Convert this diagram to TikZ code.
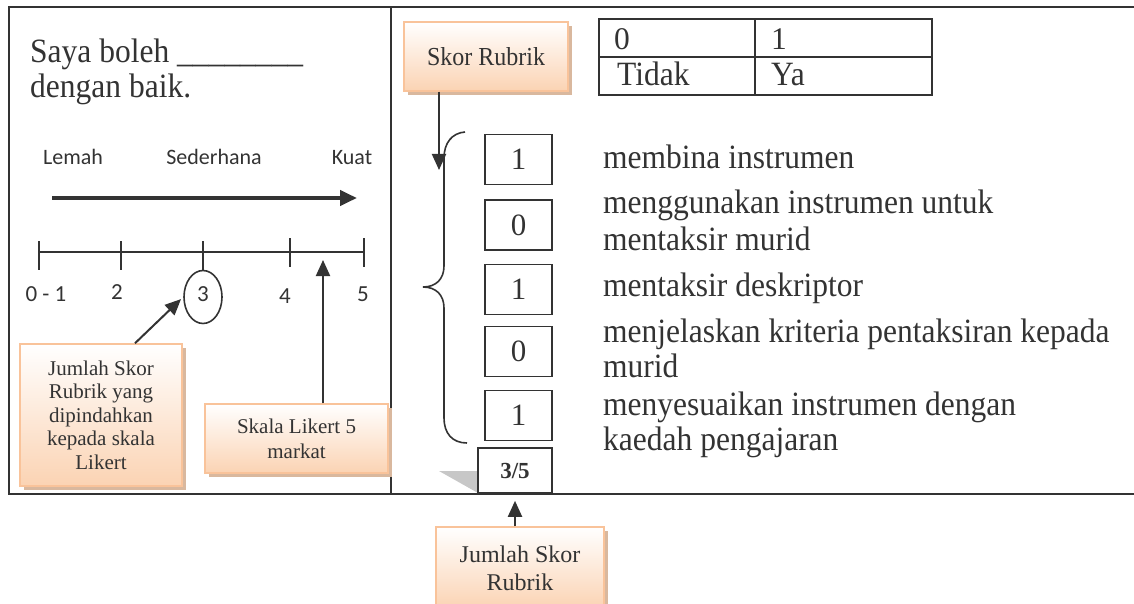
\documentclass[tikz,border=0pt]{standalone}
\usepackage{fontspec}
\setmainfont{Liberation Serif}
\newfontfamily\calfont{Carlito}
\usetikzlibrary{arrows.meta,shapes.geometric,shadows,calc}
\definecolor{ink}{HTML}{333333}
\definecolor{peach}{HTML}{FBD3B3}
\definecolor{peachedge}{HTML}{F9C39A}
\definecolor{shad}{HTML}{D9B89E}
\newcommand\vstretch[1]{\scalebox{1}[1.08]{#1}}
\begin{document}
\begin{tikzpicture}[x=1pt,y=-1pt,
  frame/.style={draw=ink,line width=2pt},
  callout/.style={draw=peachedge,line width=1.5pt,top color=white,bottom color=peach,text=ink,align=center,inner sep=0pt,
    drop shadow={shadow xshift=4pt,shadow yshift=-4pt,fill=shad,opacity=1}},
  score/.style={draw=ink,line width=1.6pt,fill=white,minimum width=67pt,minimum height=50pt,inner sep=0pt,
    font=\fontsize{31}{36}\selectfont,text=ink},
  arr/.style={draw=ink,line width=2pt,-{Triangle[length=16pt,width=14pt]}},
  txt/.style={anchor=base west,inner sep=0pt,font=\fontsize{31.5}{36}\selectfont,text=ink},
  scl/.style={anchor=base,inner sep=0pt,font=\calfont\fontsize{23}{27}\selectfont,text=ink},
]
\useasboundingbox (0,0) rectangle (1134,604);

% frame
\coordinate (tl) at (9,7);
\coordinate (bl) at (9,494);
\coordinate (tr) at (1134,7);
\coordinate (br) at (1134,494);
\coordinate (dt) at (391,7);
\coordinate (db) at (391,494);
\draw[frame] (tr) -- (tl) -- (bl) -- (br);
\draw[frame] (dt) -- (db);

% ---------- left panel ----------
\node[txt] (q1) at (30,63) {\vstretch{Saya boleh \_\_\_\_\_\_\_\_}};
\node[txt] (q2) at (30,98) {\vstretch{dengan baik.}};

\node[scl,font=\calfont\fontsize{22}{26}\selectfont] (lemah) at (73,165) {Lemah};
\node[scl,font=\calfont\fontsize{22}{26}\selectfont] (sederhana) at (214,165) {Sederhana};
\node[scl,font=\calfont\fontsize{22}{26}\selectfont] (kuat) at (352,165) {Kuat};

\coordinate (ba1) at (52,198);
\coordinate (ba2) at (357,198);
\draw[ink,line width=4pt,-{Triangle[length=17pt,width=15pt]}] (ba1) -- (ba2);

% number line
\coordinate (n0) at (39,252);
\coordinate (n1) at (121,252);
\coordinate (n2) at (203,252);
\coordinate (n3) at (290,252);
\coordinate (n4) at (364,252);
\node[ellipse,draw=ink,line width=1.6pt,minimum width=38pt,minimum height=53pt,inner sep=0pt] (ell) at (203,297) {};
\node[scl] (l3) at (203,301) {3};
\draw[ink,line width=2.5pt] (n0) -- (n4);
\draw[ink,line width=2.5pt] (n0) ++(0,-11) -- ++(0,29);
\draw[ink,line width=2.5pt] (n1) ++(0,-11) -- ++(0,29);
\draw[ink,line width=2.5pt] (n2) ++(0,-11) -- (ell.north);
\draw[ink,line width=2.5pt] (n3) ++(0,-14) -- ++(0,29);
\draw[ink,line width=2.5pt] (n4) ++(0,-14) -- ++(0,29);

\node[scl] (l01) at (46,301) {0 - 1};
\node[scl] (l2) at (117,299) {2};
\node[scl] (l4) at (285,303) {4};
\node[scl] (l5) at (363,301) {5};

\node[callout,minimum width=162pt,minimum height=142pt,font=\fontsize{21}{23.5}\selectfont] (j1) at (101,415)
  {Jumlah Skor\\Rubrik yang\\dipindahkan\\kepada skala\\Likert};
\node[callout,minimum width=183pt,minimum height=69pt,font=\fontsize{21}{25}\selectfont] (sk) at (296.5,438.5)
  {Skala Likert 5\\markat};

\draw[arr,shorten >=3pt] ([xshift=34pt]j1.north) -- (ell.west);
\coordinate (likpt) at (323,260);
\draw[arr] (sk.north -| likpt) -- (likpt);

% ---------- right panel ----------
\node[callout,minimum width=164pt,minimum height=69pt,font=\fontsize{24}{28}\selectfont] (skor) at (486,56.5) {\vstretch{Skor Rubrik}};

% table
\draw[ink,line width=2.2pt] (599,19) rectangle (932,95);
\draw[ink,line width=2.2pt] (599,57) -- (932,57);
\draw[ink,line width=2.2pt] (755,19) -- (755,95);
\node[txt] (c0) at (614,50) {0};
\node[txt] (c1) at (771,50) {1};
\node[txt] (c2) at (617,86) {\vstretch{Tidak}};
\node[txt] (c3) at (771,86) {\vstretch{Ya}};

% brace
\draw[ink,line width=1.6pt]
  (465,132) .. controls (452,133) and (444,143) .. (444,158)
  -- (444,266) .. controls (444,279) and (436,287) .. (423,287)
  .. controls (436,287) and (444,295) .. (444,308)
  -- (444,418) .. controls (444,433) and (452,443) .. (467,443);

\coordinate (skorTip) at (439,170);
\draw[arr] (skor.south -| skorTip) -- (skorTip);

% score boxes
\node[score] (s1) at (518.5,159.5) {1};
\node[score] (s2) at (518.5,225) {0};
\node[score] (s3) at (518.5,289.5) {1};
\node[score] (s4) at (518.5,351.5) {0};
\node[score] (s5) at (518.5,415.5) {1};

\fill[black!22] (439,471) -- (478,471) -- (478,493) -- cycle;
\node[draw=ink,line width=1.6pt,fill=white,minimum width=74pt,minimum height=45pt,inner sep=0pt,
  font=\bfseries\fontsize{23}{26}\selectfont,text=ink] (frac) at (515,470.5) {3/5};

% descriptions
\node[txt] (d1) at (603,169) {\vstretch{membina instrumen}};
\node[txt] (d2a) at (603,213) {\vstretch{menggunakan instrumen untuk}};
\node[txt] (d2b) at (603,250) {\vstretch{mentaksir murid}};
\node[txt] (d3) at (603,296) {\vstretch{mentaksir deskriptor}};
\node[txt] (d4a) at (603,342) {\vstretch{menjelaskan kriteria pentaksiran kepada}};
\node[txt] (d4b) at (603,377) {\vstretch{murid}};
\node[txt] (d5a) at (603,415) {\vstretch{menyesuaikan instrumen dengan}};
\node[txt] (d5b) at (603,450) {\vstretch{kaedah pengajaran}};

% bottom callout
\node[callout,minimum width=168pt,minimum height=82pt,font=\fontsize{24}{28}\selectfont] (tot) at (520,568)
  {Jumlah Skor\\Rubrik};
\draw[arr,shorten >=7pt] (tot.north -| frac.south) -- (frac.south);
\end{tikzpicture}
\end{document}
